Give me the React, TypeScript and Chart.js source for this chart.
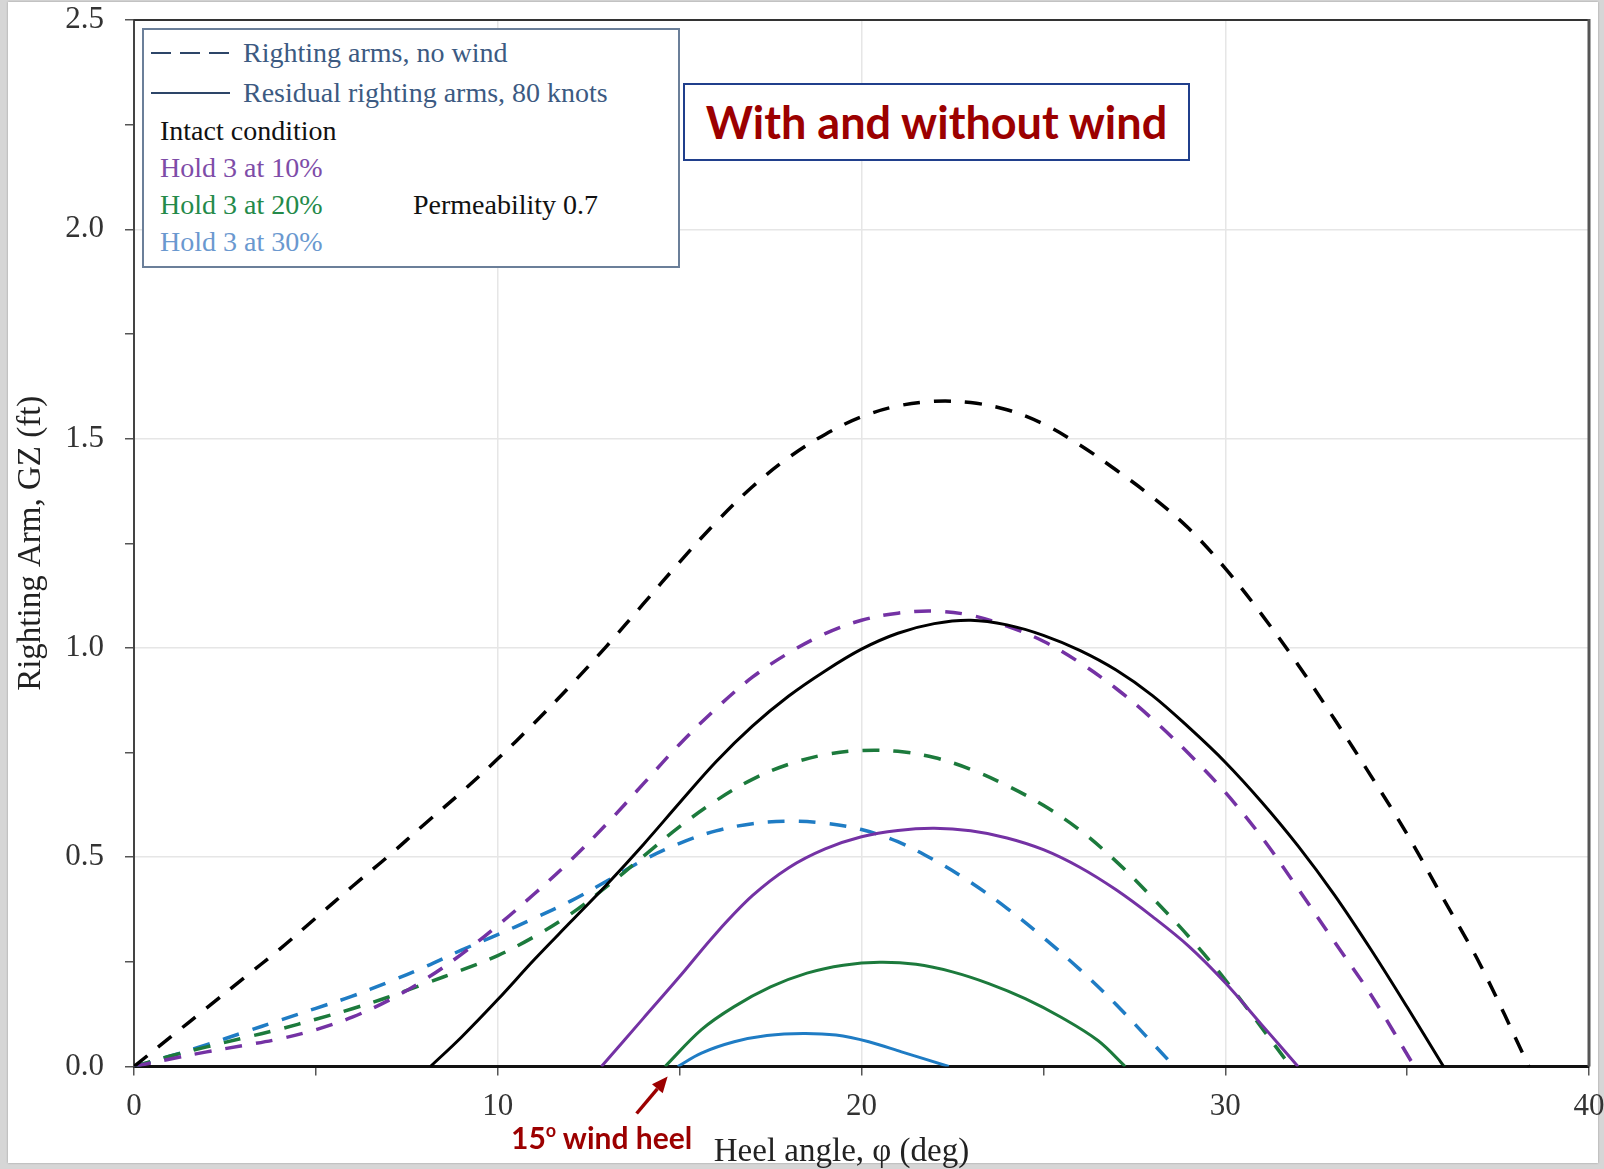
import React, { useEffect, useRef } from 'react';
import { Chart, registerables } from 'chart.js';

Chart.register(...registerables);

type Pt = [number, number];

// Righting arm GZ (ft) against heel angle (deg)
const INTACT_NO_WIND: Pt[] = [
  [0, 0], [1, 0.07], [2, 0.14], [3, 0.21], [4, 0.28], [5, 0.355], [6, 0.43], [7, 0.503], [8, 0.58],
  [9, 0.655], [10, 0.735], [11, 0.82], [12, 0.91], [13, 1.005], [14, 1.105], [15, 1.205], [16, 1.3],
  [17, 1.385], [18, 1.455], [19, 1.51], [20, 1.552], [21, 1.578], [22, 1.589], [23, 1.586], [24, 1.569],
  [25, 1.535], [26, 1.485], [27, 1.425], [28, 1.36], [29, 1.285], [30, 1.19], [31, 1.08], [32, 0.96],
  [33, 0.83], [34, 0.695], [35, 0.555], [36, 0.4], [37, 0.245], [38.35, 0],
];
const INTACT_WIND_80KT: Pt[] = [
  [8.15, 0], [9, 0.07], [10, 0.16], [11, 0.255], [12, 0.345], [13, 0.435], [14, 0.53], [15, 0.63],
  [16, 0.728], [17, 0.813], [18, 0.885], [19, 0.945], [20, 0.997], [21, 1.035], [22, 1.058], [23, 1.066],
  [24, 1.055], [25, 1.03], [26, 0.994], [27, 0.947], [28, 0.886], [29, 0.81], [30, 0.727], [31, 0.632],
  [32, 0.527], [33, 0.41], [34, 0.28], [35, 0.142], [36, 0],
];
const HOLD3_10_NO_WIND: Pt[] = [
  [0, 0], [1, 0.018], [2, 0.035], [3, 0.05], [4, 0.066], [5, 0.088], [6, 0.118], [7, 0.158], [8, 0.208],
  [9, 0.268], [10, 0.337], [11, 0.412], [12, 0.492], [13, 0.58], [14, 0.675], [15, 0.77], [16, 0.855],
  [17, 0.93], [18, 0.988], [19, 1.034], [20, 1.066], [21, 1.083], [22, 1.088], [23, 1.078], [24, 1.052],
  [25, 1.016], [26, 0.965], [27, 0.903], [28, 0.83], [29, 0.747], [30, 0.655], [31, 0.548], [32, 0.425],
  [33, 0.298], [34, 0.172], [35.2, 0],
];
const HOLD3_10_WIND_80KT: Pt[] = [
  [12.85, 0], [14, 0.115], [15, 0.215], [16, 0.318], [17, 0.408], [18, 0.475], [19, 0.52],
  [20, 0.549], [21, 0.564], [22, 0.569], [23, 0.563], [24, 0.546], [25, 0.518], [26, 0.476], [27, 0.422],
  [28, 0.358], [29, 0.287], [30, 0.2], [31, 0.1], [32, 0],
];
const HOLD3_20_NO_WIND: Pt[] = [
  [0, 0], [1, 0.025], [2, 0.047], [3, 0.068], [4, 0.089], [5, 0.113], [6, 0.138], [7, 0.166], [8, 0.198],
  [9, 0.23], [10, 0.265], [11, 0.31], [12, 0.364], [13, 0.43], [14, 0.502], [15, 0.573], [16, 0.635],
  [17, 0.686], [18, 0.722], [19, 0.745], [20, 0.755], [21, 0.753], [22, 0.738], [23, 0.71], [24, 0.671],
  [25, 0.624], [26, 0.565], [27, 0.49], [28, 0.403], [29, 0.31], [30, 0.207], [31.8, 0],
];
const HOLD3_20_WIND_80KT: Pt[] = [
  [14.6, 0], [15.6, 0.088], [16.5, 0.143], [17.5, 0.19], [18.5, 0.223], [19.5, 0.242], [20.5, 0.249],
  [21.5, 0.244], [22.5, 0.226], [23.5, 0.198], [24.5, 0.162], [25.5, 0.117], [26.5, 0.062], [27.25, 0],
];
const HOLD3_30_NO_WIND: Pt[] = [
  [0, 0], [1, 0.025], [2, 0.052], [3, 0.081], [4, 0.11], [5, 0.139], [6, 0.168], [7, 0.202], [8, 0.238],
  [9, 0.278], [10, 0.315], [11, 0.354], [12, 0.395], [13, 0.443], [14, 0.493], [15, 0.533], [16, 0.563],
  [17, 0.58], [18, 0.586], [19, 0.581], [20, 0.566], [21, 0.537], [22, 0.493], [23, 0.44], [24, 0.378],
  [25, 0.308], [26, 0.232], [27, 0.148], [28.6, 0],
];
const HOLD3_30_WIND_80KT: Pt[] = [
  [14.95, 0], [15.6, 0.032], [16.5, 0.059], [17.4, 0.074], [18.4, 0.079], [19.3, 0.075], [20.2, 0.059],
  [21.1, 0.035], [22.4, 0],
];

const X_MIN = 0;
const X_MAX = 40;
const X_STEP = 5;
const X_LABEL_STEP = 10;
const Y_MIN = 0;
const Y_MAX = 2.5;
const Y_STEP = 0.25;
const Y_LABEL_STEP = 0.5;
const WIND_HEEL_DEG = 15;
const X_TITLE = 'Heel angle, φ (deg)';
const Y_TITLE = 'Righting Arm, GZ (ft)';

const BLACK = '#000000';
const PURPLE = '#7432a4';
const GREEN = '#1c7a3c';
const BLUE = '#1f7cc4';
const DARK_RED = '#9c0000';
const GRID = '#e6e6e6';
const SERIF = '"Liberation Serif", "Times New Roman", serif';
const SANS = 'Lato, "Open Sans", sans-serif';

const W = 1604;
const H = 1169;

const isStep = (v: number, step: number) => Math.abs(v / step - Math.round(v / step)) < 1e-6;

function series(label: string, pts: Pt[], color: string, dashed: boolean) {
  return {
    label,
    data: pts.map(([x, y]) => ({ x, y })),
    borderColor: color,
    backgroundColor: color,
    borderWidth: dashed ? 3.5 : 3,
    borderDash: dashed ? [17, 14] : [],
    pointRadius: 0,
    pointHoverRadius: 0,
    tension: 0.35,
    fill: false,
  };
}

const framePlugin = {
  id: 'plotFrame',
  afterDraw(chart: any) {
    const { ctx, chartArea: a, scales } = chart;
    ctx.save();
    // top and right edges of the plot box
    ctx.strokeStyle = '#333';
    ctx.lineWidth = 2;
    ctx.beginPath();
    ctx.moveTo(a.left, a.top);
    ctx.lineTo(a.right, a.top);
    ctx.stroke();
    ctx.strokeStyle = '#555';
    ctx.lineWidth = 3;
    ctx.beginPath();
    ctx.moveTo(a.right, a.top - 1);
    ctx.lineTo(a.right, a.bottom);
    ctx.stroke();

    // x-axis title, set a little left of centre
    ctx.fillStyle = '#222';
    ctx.font = `33px ${SERIF}`;
    ctx.textAlign = 'center';
    ctx.textBaseline = 'middle';
    ctx.fillText(X_TITLE, (a.left + a.right) / 2 - 20, chart.height - 17);

    // arrow pointing at the wind heel angle
    const tipX = scales.x.getPixelForValue(WIND_HEEL_DEG) - 12;
    const tipY = a.bottom + 10;
    const tailX = tipX - 31;
    const tailY = tipY + 37;
    const ang = Math.atan2(tipY - tailY, tipX - tailX);
    const headLen = 16;
    const headHalf = 7;
    const bx = tipX - headLen * Math.cos(ang);
    const by = tipY - headLen * Math.sin(ang);
    ctx.strokeStyle = DARK_RED;
    ctx.fillStyle = DARK_RED;
    ctx.lineWidth = 3.5;
    ctx.beginPath();
    ctx.moveTo(tailX, tailY);
    ctx.lineTo(bx, by);
    ctx.stroke();
    ctx.beginPath();
    ctx.moveTo(tipX, tipY);
    ctx.lineTo(bx + headHalf * Math.sin(ang), by - headHalf * Math.cos(ang));
    ctx.lineTo(bx - headHalf * Math.sin(ang), by + headHalf * Math.cos(ang));
    ctx.closePath();
    ctx.fill();
    ctx.restore();
  },
};

function GzChart() {
  const ref = useRef<HTMLCanvasElement | null>(null);

  useEffect(() => {
    if (!ref.current) return;
    const chart = new Chart(ref.current, {
      type: 'line',
      data: {
        datasets: [
          series('Intact, no wind', INTACT_NO_WIND, BLACK, true),
          series('Intact, 80 knots', INTACT_WIND_80KT, BLACK, false),
          series('Hold 3 at 10%, no wind', HOLD3_10_NO_WIND, PURPLE, true),
          series('Hold 3 at 10%, 80 knots', HOLD3_10_WIND_80KT, PURPLE, false),
          series('Hold 3 at 20%, no wind', HOLD3_20_NO_WIND, GREEN, true),
          series('Hold 3 at 20%, 80 knots', HOLD3_20_WIND_80KT, GREEN, false),
          series('Hold 3 at 30%, no wind', HOLD3_30_NO_WIND, BLUE, true),
          series('Hold 3 at 30%, 80 knots', HOLD3_30_WIND_80KT, BLUE, false),
        ],
      },
      options: {
        animation: false,
        responsive: false,
        maintainAspectRatio: false,
        devicePixelRatio: 1,
        events: [],
        layout: { padding: { left: 0, top: 20, right: 15, bottom: 0 } },
        plugins: { legend: { display: false }, tooltip: { enabled: false }, title: { display: false } },
        scales: {
          x: {
            type: 'linear',
            min: X_MIN,
            max: X_MAX,
            ticks: {
              stepSize: X_STEP,
              autoSkip: false,
              maxRotation: 0,
              padding: 13,
              color: '#333',
              font: { family: SERIF, size: 31 },
              callback: (v: any) => (isStep(Number(v), X_LABEL_STEP) ? String(v) : ''),
            },
            grid: {
              color: (c: any) =>
                c.tick && isStep(c.tick.value, X_LABEL_STEP) && c.tick.value > X_MIN && c.tick.value < X_MAX
                  ? GRID
                  : 'rgba(0,0,0,0)',
              lineWidth: 1.5,
              tickColor: '#555',
              tickLength: 9,
              tickWidth: 1.5,
            },
            border: { color: '#111', width: 3 },
            title: { display: false },
            afterFit: (s: any) => {
              s.height = H - 1066.5;
              s.paddingLeft = 0;
              s.paddingRight = 0;
            },
          },
          y: {
            type: 'linear',
            min: Y_MIN,
            max: Y_MAX,
            ticks: {
              stepSize: Y_STEP,
              autoSkip: false,
              padding: 21,
              color: '#333',
              font: { family: SERIF, size: 31 },
              callback: (v: any) => (isStep(Number(v), Y_LABEL_STEP) ? Number(v).toFixed(1) : ''),
            },
            grid: {
              color: (c: any) =>
                c.tick && isStep(c.tick.value, Y_LABEL_STEP) && c.tick.value > Y_MIN && c.tick.value < Y_MAX
                  ? GRID
                  : 'rgba(0,0,0,0)',
              lineWidth: 1.5,
              tickColor: '#555',
              tickLength: 9,
              tickWidth: 1.5,
            },
            border: { color: '#444', width: 2 },
            title: {
              display: true,
              text: Y_TITLE,
              color: '#222',
              font: { family: SERIF, size: 33 },
              padding: { top: 12, bottom: 0 },
            },
            afterFit: (s: any) => {
              s.width = 134;
              s.paddingTop = 0;
              s.paddingBottom = 0;
            },
          },
        },
      },
      plugins: [framePlugin],
    } as any);
    return () => chart.destroy();
  }, []);

  return (
    <canvas
      ref={ref}
      width={W}
      height={H}
      style={{ position: 'absolute', left: 0, top: 0, width: W, height: H }}
    />
  );
}

const legendRow = (top: number, left: number, color: string, text: string) => (
  <div
    style={{
      position: 'absolute',
      left,
      top: top - 16,
      height: 32,
      lineHeight: '32px',
      fontFamily: SERIF,
      fontSize: 28,
      color,
      whiteSpace: 'nowrap',
    }}
  >
    {text}
  </div>
);

export default function App() {
  return (
    <div style={{ position: 'absolute', left: 0, top: 0, width: W, height: H, background: '#d6d6d6', overflow: 'hidden' }}>
      <div
        style={{
          position: 'absolute',
          left: 8,
          top: 2,
          width: 1590,
          height: 1161,
          background: '#ffffff',
          boxShadow: '0 0 2px #9a9a9a',
        }}
      />
      <GzChart />

      {/* legend */}
      <div
        style={{
          position: 'absolute',
          left: 142,
          top: 28,
          width: 538,
          height: 240,
          boxSizing: 'border-box',
          border: '2px solid #6b7f99',
          background: '#ffffff',
        }}
      >
        <svg width={534} height={236} style={{ position: 'absolute', left: 0, top: 0 }}>
          <line x1={7} x2={86} y1={23} y2={23} stroke="#2d4568" strokeWidth={2} strokeDasharray="20 9" />
          <line x1={7} x2={86} y1={63} y2={63} stroke="#2d4568" strokeWidth={2} />
        </svg>
        {legendRow(23, 99, '#3c5a82', 'Righting arms, no wind')}
        {legendRow(63, 99, '#3c5a82', 'Residual righting arms, 80 knots')}
        {legendRow(101, 16, '#111111', 'Intact condition')}
        {legendRow(138, 16, '#7e4ca8', 'Hold 3 at 10%')}
        {legendRow(175, 16, '#248a4a', 'Hold 3 at 20%')}
        {legendRow(175, 269, '#111111', 'Permeability 0.7')}
        {legendRow(212, 16, '#6a98cf', 'Hold 3 at 30%')}
      </div>

      {/* caption box */}
      <div
        style={{
          position: 'absolute',
          left: 683,
          top: 83,
          width: 507,
          height: 78,
          boxSizing: 'border-box',
          border: '2px solid #203f8c',
          background: '#ffffff',
          display: 'flex',
          alignItems: 'center',
          justifyContent: 'center',
          fontFamily: SANS,
          fontWeight: 700,
          fontSize: 45,
          color: DARK_RED,
          whiteSpace: 'nowrap',
        }}
      >
        With and without wind
      </div>

      {/* wind heel note */}
      <div
        style={{
          position: 'absolute',
          left: 511,
          top: 1118,
          height: 38,
          lineHeight: '38px',
          fontFamily: SANS,
          fontWeight: 700,
          fontSize: 30,
          color: DARK_RED,
          whiteSpace: 'nowrap',
        }}
      >
        15<sup style={{ fontSize: 18, verticalAlign: 'top', lineHeight: '24px' }}>o</sup> wind heel
      </div>
    </div>
  );
}
